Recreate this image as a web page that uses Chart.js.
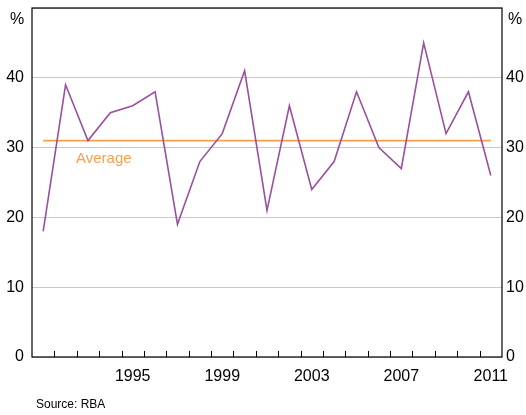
<!DOCTYPE html>
<html><head><meta charset="utf-8">
<script src="https://cdn.jsdelivr.net/npm/chart.js@4"></script>
<style>html,body{margin:0;background:#fff}#c{display:block}</style>
</head><body>
<canvas id="c" width="526" height="415"></canvas>
<script>
const years = ["1991","1992","1993","1994","1995","1996","1997","1998","1999","2000","2001","2002","2003","2004","2005","2006","2007","2008","2009","2010","2011"];
const share = [18,39,31,35,36,38,19,28,32,41,21,36,24,28,38,30,27,45,32,38,26];
const average = years.map(() => 31);
const shownYears = ["1995","1999","2003","2007","2011"];
const yTicks = [0,10,20,30,40,50];

const FONT = "Liberation Sans, Arial, sans-serif";

const deco = {
  id: "deco",
  afterDraw(ch) {
    const c = ch.ctx, a = ch.chartArea, x = ch.scales.x;
    c.save();
    // year tick marks on the inside of the bottom axis
    c.strokeStyle = "#000"; c.lineWidth = 1;
    for (let i = 1; i < years.length; i++) {
      const px = Math.round((x.getPixelForValue(i - 1) + x.getPixelForValue(i)) / 2) + 0.5;
      c.beginPath(); c.moveTo(px, a.bottom); c.lineTo(px, a.bottom - 6); c.stroke();
    }
    c.lineWidth = 1.2;
    c.strokeRect(a.left, a.top, a.right - a.left, a.bottom - a.top);
    c.fillStyle = "#000"; c.font = "16px " + FONT; c.textBaseline = "middle";
    c.textAlign = "left"; c.fillText("%", 10, 20);
    c.fillText("%", a.right + 6, 20);
    c.font = "12px " + FONT; c.fillText("Source: RBA", 36, 405);
    c.fillStyle = "#f5a04a"; c.font = "15px " + FONT;
    c.fillText("Average", 76, 159);
    c.restore();
  }
};

const yTickOpts = (pad) => ({
  color: "#000", padding: pad, font: { size: 16, family: FONT },
  callback: v => v === 50 ? "" : v
});

new Chart(document.getElementById("c"), {
  type: "line",
  data: {
    labels: years,
    datasets: [
      { data: share, borderColor: "#9b4f9f", borderWidth: 1.6, pointRadius: 0, tension: 0 },
      { data: average, borderColor: "#f5a04a", borderWidth: 1.8, pointRadius: 0 }
    ]
  },
  options: {
    responsive: false, animation: false, devicePixelRatio: 1,
    layout: { padding: { top: 0, left: 0, right: 0, bottom: 0 } },
    plugins: { legend: { display: false }, tooltip: { enabled: false } },
    scales: {
      x: {
        offset: true,
        grid: { display: false },
        border: { display: false },
        afterFit: s => { s.height = 58; },
        ticks: {
          autoSkip: false, maxRotation: 0, color: "#000", padding: 2,
          font: { size: 16, family: FONT },
          callback: (v, i) => shownYears.includes(years[i]) ? years[i] : ""
        }
      },
      y: {
        min: 0, max: 50, position: "left",
        afterFit: s => { s.width = 32; s.paddingTop = 8; },
        afterBuildTicks: s => { s.ticks = yTicks.map(v => ({ value: v })); },
        grid: { color: "#c8c8c8", drawTicks: false },
        border: { display: false },
        ticks: yTickOpts(8)
      },
      y2: {
        min: 0, max: 50, position: "right",
        afterFit: s => { s.width = 24; s.paddingTop = 8; },
        afterBuildTicks: s => { s.ticks = yTicks.map(v => ({ value: v })); },
        grid: { display: false, drawTicks: false },
        border: { display: false },
        ticks: yTickOpts(4)
      }
    }
  },
  plugins: [deco]
});
</script>
</body></html>
